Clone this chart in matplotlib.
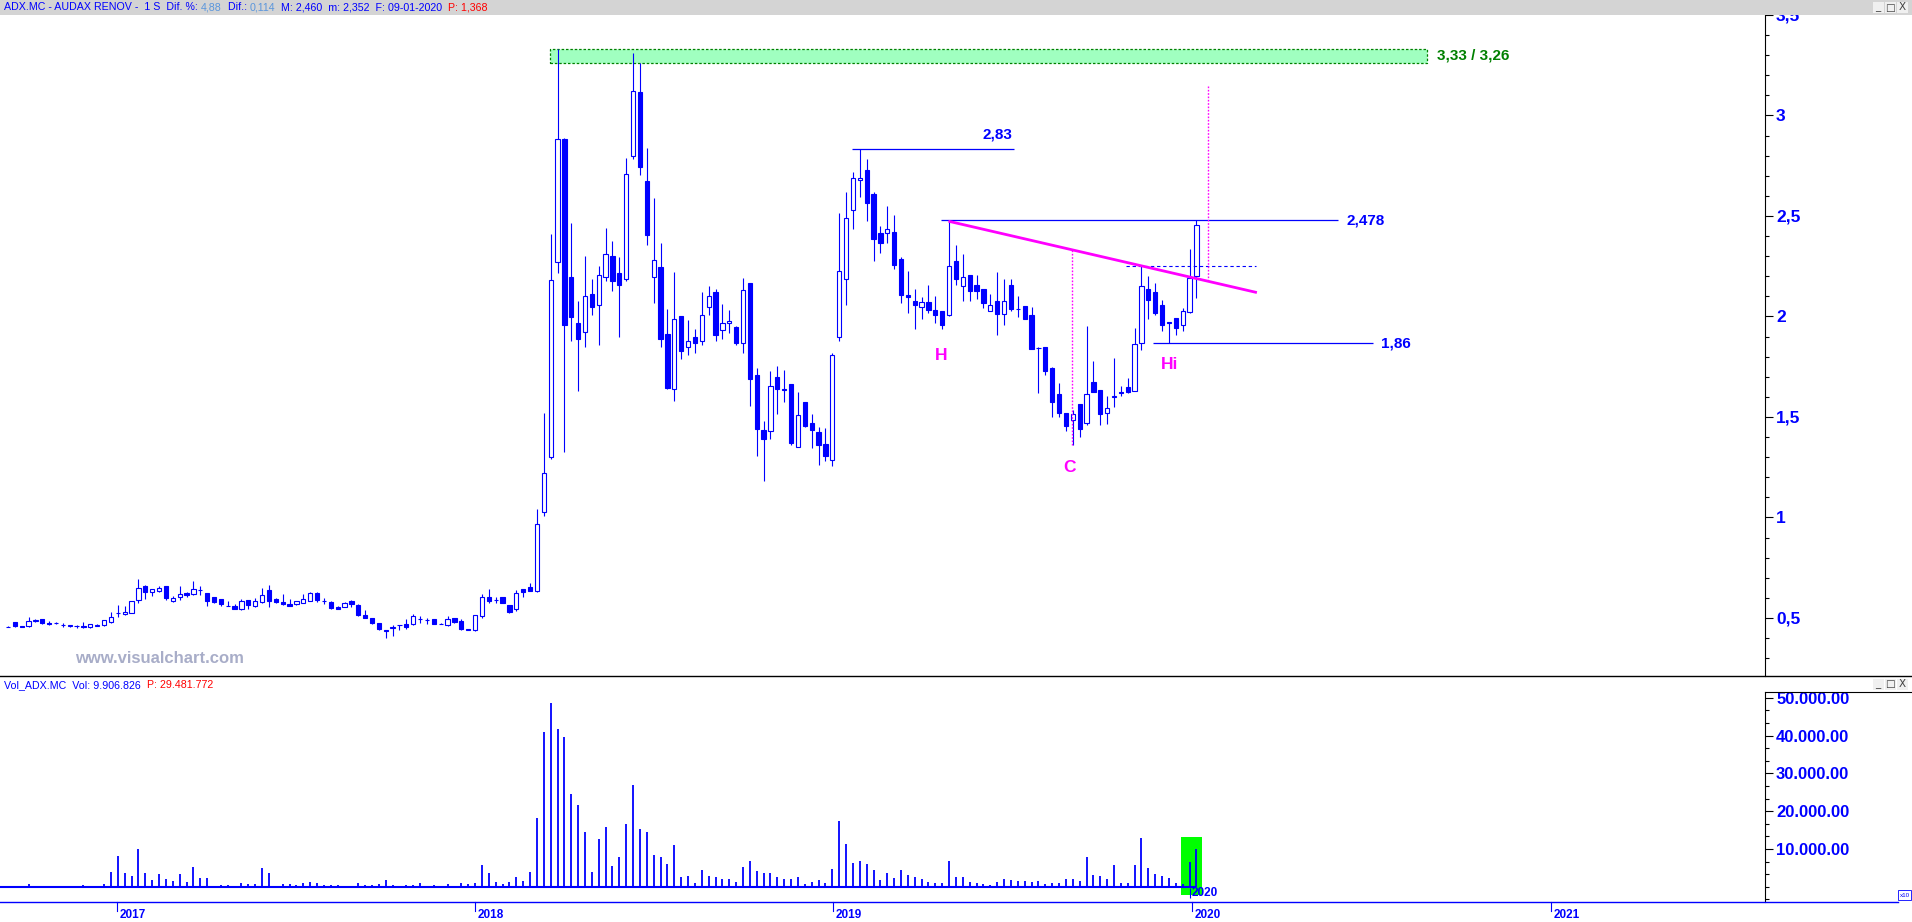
import numpy as np
import pandas as pd
import matplotlib
matplotlib.use('Agg')
import matplotlib.pyplot as plt
import matplotlib.transforms as mtransforms
from matplotlib.patches import Rectangle
from matplotlib.lines import Line2D
from matplotlib.ticker import FixedLocator, FuncFormatter

plt.rcParams['font.family'] = ['Liberation Sans', 'DejaVu Sans']
plt.rcParams['font.weight'] = 'bold'

BLUE = '#0000ff'
LBLUE = '#5a96dc'
RED = '#ff0000'
MAGENTA = '#ff00ff'
GREEN = '#008000'

# weekly candles ADX.MC, first week 2016-09-12
start = '2016-09-12'
opens = [0.455, 0.478, 0.459, 0.458, 0.487, 0.493, 0.476, 0.475, 0.464, 0.461,
         0.461, 0.460, 0.453, 0.462, 0.463, 0.481, 0.524, 0.518, 0.523, 0.587,
         0.660, 0.630, 0.636, 0.659, 0.586, 0.606, 0.622, 0.620, 0.638, 0.622,
         0.602, 0.592, 0.559, 0.559, 0.542, 0.587, 0.561, 0.577, 0.637, 0.594,
         0.579, 0.569, 0.567, 0.576, 0.586, 0.626, 0.584, 0.579, 0.553, 0.553,
         0.584, 0.564, 0.513, 0.498, 0.473, 0.437, 0.451, 0.466, 0.468, 0.468,
         0.494, 0.492, 0.493, 0.472, 0.463, 0.498, 0.485, 0.443, 0.438, 0.510,
         0.604, 0.588, 0.604, 0.563, 0.546, 0.642, 0.652, 0.636, 1.025, 1.302,
         2.272, 2.885, 2.194, 1.965, 1.925, 2.114, 2.055, 2.194, 2.303, 2.214,
         2.184, 2.800, 3.115, 2.673, 2.194, 2.244, 1.915, 1.640, 2.002, 1.846,
         1.897, 1.876, 2.045, 2.124, 1.935, 1.965, 1.947, 1.866, 2.164, 1.711,
         1.433, 1.428, 1.697, 1.638, 1.663, 1.352, 1.574, 1.470, 1.423, 1.364,
         1.284, 1.896, 2.184, 2.532, 2.681, 2.731, 2.611, 2.413, 2.413, 2.422,
         2.285, 2.106, 2.076, 2.048, 2.071, 2.030, 2.026, 2.005, 2.275, 2.154,
         2.204, 2.156, 2.136, 2.028, 2.079, 2.013, 2.159, 2.035, 2.051, 2.006,
         1.841, 1.849, 1.743, 1.614, 1.519, 1.483, 1.564, 1.471, 1.673, 1.634,
         1.521, 1.600, 1.624, 1.647, 1.630, 1.866, 2.137, 2.121, 2.055, 1.970,
         1.992, 1.958, 2.021, 2.200]
highs = [0.462, 0.479, 0.460, 0.503, 0.495, 0.494, 0.485, 0.481, 0.473, 0.467,
         0.464, 0.480, 0.469, 0.468, 0.489, 0.530, 0.563, 0.559, 0.582, 0.693,
         0.662, 0.646, 0.659, 0.660, 0.610, 0.659, 0.627, 0.684, 0.659, 0.623,
         0.603, 0.593, 0.582, 0.569, 0.592, 0.588, 0.597, 0.647, 0.662, 0.599,
         0.619, 0.593, 0.585, 0.619, 0.629, 0.631, 0.597, 0.584, 0.560, 0.579,
         0.589, 0.569, 0.538, 0.499, 0.474, 0.438, 0.463, 0.467, 0.495, 0.520,
         0.508, 0.500, 0.494, 0.473, 0.510, 0.499, 0.493, 0.444, 0.514, 0.619,
         0.642, 0.605, 0.605, 0.564, 0.639, 0.643, 0.675, 1.042, 1.519, 2.408,
         3.331, 2.886, 2.466, 2.078, 2.300, 2.186, 2.250, 2.439, 2.374, 2.295,
         2.787, 3.309, 3.263, 2.837, 2.588, 2.365, 2.036, 2.220, 2.003, 1.982,
         1.937, 2.121, 2.151, 2.136, 2.061, 2.031, 1.955, 2.190, 2.165, 1.746,
         1.478, 1.728, 1.753, 1.736, 1.664, 1.624, 1.575, 1.514, 1.450, 1.445,
         1.819, 2.517, 2.617, 2.718, 2.835, 2.782, 2.621, 2.452, 2.549, 2.505,
         2.297, 2.227, 2.137, 2.096, 2.156, 2.104, 2.027, 2.477, 2.355, 2.310,
         2.205, 2.204, 2.137, 2.114, 2.220, 2.187, 2.187, 2.101, 2.052, 2.045,
         1.849, 1.850, 1.750, 1.667, 1.520, 1.534, 1.565, 1.953, 1.776, 1.635,
         1.604, 1.793, 1.653, 1.693, 1.942, 2.250, 2.200, 2.167, 2.084, 1.971,
         1.993, 2.041, 2.335, 2.478]
lows = [0.453, 0.457, 0.456, 0.457, 0.481, 0.468, 0.466, 0.468, 0.457, 0.456,
        0.452, 0.452, 0.452, 0.459, 0.462, 0.476, 0.503, 0.515, 0.522, 0.576,
        0.594, 0.610, 0.630, 0.589, 0.579, 0.591, 0.606, 0.616, 0.614, 0.561,
        0.576, 0.560, 0.557, 0.543, 0.541, 0.546, 0.556, 0.575, 0.556, 0.576,
        0.566, 0.560, 0.566, 0.575, 0.585, 0.579, 0.569, 0.546, 0.545, 0.552,
        0.556, 0.510, 0.500, 0.471, 0.440, 0.402, 0.412, 0.438, 0.447, 0.467,
        0.475, 0.472, 0.471, 0.469, 0.462, 0.476, 0.442, 0.439, 0.437, 0.501,
        0.573, 0.573, 0.572, 0.526, 0.536, 0.606, 0.635, 0.630, 1.008, 1.292,
        2.217, 1.327, 1.879, 1.630, 1.849, 2.008, 1.859, 2.177, 2.128, 1.899,
        2.177, 2.784, 2.704, 2.356, 2.068, 1.849, 1.639, 1.581, 1.789, 1.809,
        1.819, 1.859, 2.008, 1.879, 1.889, 1.919, 1.859, 1.819, 1.554, 1.307,
        1.183, 1.392, 1.514, 1.574, 1.358, 1.351, 1.451, 1.345, 1.262, 1.282,
        1.257, 1.879, 2.058, 2.436, 2.595, 2.477, 2.277, 2.317, 2.366, 2.237,
        2.068, 2.018, 1.939, 1.988, 2.015, 1.968, 1.937, 2.004, 2.157, 2.078,
        2.078, 2.088, 2.040, 2.027, 1.909, 1.958, 2.028, 1.995, 1.988, 1.838,
        1.620, 1.707, 1.501, 1.501, 1.428, 1.362, 1.402, 1.458, 1.623, 1.461,
        1.464, 1.551, 1.604, 1.617, 1.629, 1.833, 1.988, 2.008, 1.928, 1.870,
        1.909, 1.928, 2.018, 2.094]
closes = [0.457, 0.458, 0.457, 0.483, 0.489, 0.476, 0.468, 0.476, 0.463, 0.462,
          0.460, 0.453, 0.468, 0.463, 0.488, 0.503, 0.525, 0.530, 0.582, 0.647,
          0.630, 0.644, 0.649, 0.601, 0.597, 0.619, 0.612, 0.642, 0.640, 0.586,
          0.579, 0.568, 0.558, 0.546, 0.582, 0.566, 0.582, 0.612, 0.586, 0.581,
          0.571, 0.561, 0.584, 0.593, 0.622, 0.589, 0.585, 0.551, 0.546, 0.574,
          0.571, 0.516, 0.501, 0.476, 0.447, 0.436, 0.453, 0.465, 0.455, 0.508,
          0.496, 0.489, 0.472, 0.470, 0.493, 0.481, 0.447, 0.440, 0.513, 0.602,
          0.584, 0.590, 0.573, 0.531, 0.622, 0.631, 0.636, 0.966, 1.223, 2.183,
          2.884, 1.959, 1.998, 1.889, 2.104, 2.048, 2.204, 2.313, 2.177, 2.157,
          2.711, 3.124, 2.744, 2.406, 2.283, 1.889, 1.645, 1.985, 1.829, 1.876,
          1.869, 2.005, 2.104, 1.909, 1.965, 1.975, 1.869, 2.134, 1.690, 1.438,
          1.388, 1.652, 1.640, 1.636, 1.372, 1.508, 1.455, 1.436, 1.362, 1.307,
          1.806, 2.225, 2.492, 2.691, 2.691, 2.565, 2.386, 2.366, 2.433, 2.257,
          2.107, 2.098, 2.058, 2.071, 2.031, 2.008, 1.958, 2.253, 2.187, 2.194,
          2.127, 2.127, 2.068, 2.055, 2.013, 2.079, 2.038, 2.037, 1.989, 1.839,
          1.842, 1.730, 1.576, 1.521, 1.455, 1.513, 1.441, 1.612, 1.624, 1.514,
          1.544, 1.601, 1.617, 1.624, 1.862, 2.151, 2.083, 2.018, 1.958, 1.969,
          1.945, 2.028, 2.190, 2.457]
# volume (axis units, thousands)
volume = [200, 200, 200, 700, 200, 200, 200, 200, 200, 200,
          200, 440, 200, 200, 700, 3970, 8200, 3700, 2820, 10050,
          3700, 1760, 3440, 2030, 1590, 3440, 1320, 5290, 2380, 2380,
          200, 440, 440, 200, 970, 790, 790, 5030, 3700, 200,
          790, 790, 530, 1060, 1320, 970, 440, 440, 440, 200,
          200, 1060, 530, 530, 790, 1850, 440, 200, 440, 440,
          1060, 200, 440, 200, 790, 200, 1060, 620, 1060, 5820,
          3530, 1320, 790, 1320, 2650, 1590, 3970, 18080, 40830, 48680,
          41800, 39680, 24600, 21690, 14550, 3970, 12700, 15870, 5560, 7940,
          16670, 26980, 15340, 14550, 8470, 7940, 6080, 11110, 2650, 2910,
          1060, 4500, 2910, 2650, 2120, 2120, 1320, 5290, 6880, 4230,
          3700, 3700, 2650, 2120, 2120, 2650, 790, 1320, 1850, 1060,
          4760, 17460, 11380, 6350, 6880, 6080, 4500, 1850, 3700, 2380,
          4500, 3170, 2650, 2120, 1320, 1060, 1060, 6880, 2650, 2650,
          1320, 1060, 790, 530, 1320, 2120, 1850, 1590, 1590, 1320,
          1590, 790, 1060, 1060, 2120, 2120, 1590, 7940, 3170, 2910,
          2120, 5820, 1060, 1060, 5820, 12960, 5030, 3440, 2910, 2380,
          1060, 790, 6610, 9907]

years = [2017, 2018, 2019, 2020, 2021]
price_ticks = [0.5, 1, 1.5, 2, 2.5, 3, 3.5]
vol_ticks = [10000, 20000, 30000, 40000, 50000]

# chart drawings
levels = {'2,83': 2.835, '2,478': 2.478, '1,86': 1.866}
zone = (3.263, 3.333)
neck = ((136.9, 2.474), (181.8, 2.119))
pattern_labels = [('H', 135.8, 1.808), ('C', 154.5, 1.249), ('Hi', 169.1, 1.761)]

dates = pd.date_range(start, periods=len(opens), freq='7D')
x = np.arange(len(opens))

W, H = 1912, 922
fig = plt.figure(figsize=(W / 100, H / 100), dpi=100)
fig.patch.set_facecolor('white')


def fx(px):
    return px / W


def fy(py):
    return 1 - py / H


AXIS_X = 1765
PRICE_TOP, PRICE_BOT = 15, 676
VOL_TOP, VOL_BOT = 692, 902
XLIM = (-1.15, 255.76)

ax = fig.add_axes([0, fy(PRICE_BOT), fx(AXIS_X), (PRICE_BOT - PRICE_TOP) / H])
axv = fig.add_axes([0, fy(VOL_BOT), fx(AXIS_X), (VOL_BOT - VOL_TOP) / H])

for a in (ax, axv):
    for s in ['top', 'left', 'bottom']:
        a.spines[s].set_visible(False)
    a.spines['right'].set_color('black')
    a.spines['right'].set_linewidth(0.8)
    a.set_xlim(XLIM)
    a.tick_params(axis='x', which='both', bottom=False, labelbottom=False)
    a.yaxis.tick_right()

# candles
body_w = 0.62
for i in range(len(x)):
    o, h, l, c = opens[i], highs[i], lows[i], closes[i]
    ax.vlines(x[i], l, h, color=BLUE, lw=0.8, zorder=2)
    lo, hi = min(o, c), max(o, c)
    fc = 'white' if c >= o else BLUE
    ax.add_patch(Rectangle((x[i] - body_w / 2, lo), body_w, max(hi - lo, 0.002),
                           facecolor=fc, edgecolor=BLUE, lw=0.8, zorder=3))

ax.set_ylim(0.211, 3.5)
ax.yaxis.set_major_locator(FixedLocator(price_ticks))
ax.yaxis.set_minor_locator(FixedLocator(np.round(np.arange(0.3, 3.51, 0.1), 2)))
ax.yaxis.set_major_formatter(FuncFormatter(lambda v, p: ('%g' % v).replace('.', ',')))
ax.tick_params(axis='y', which='major', direction='out', length=6, width=0.8,
               color='black', labelcolor=BLUE, labelsize=12.5, pad=2)
ax.tick_params(axis='y', which='minor', direction='out', length=3, width=0.8, color='black')

# green resistance zone
ax.add_patch(Rectangle((78.9, zone[0]), 206.6 - 78.9, zone[1] - zone[0],
                       facecolor='#a0ffc0', edgecolor=GREEN, lw=0.9, ls=(0, (2, 1.5)), zorder=1))
ax.text(208.0, sum(zone) / 2, '3,33 / 3,26', color=GREEN, fontsize=11, ha='left', va='center')

# horizontal levels
ax.hlines(levels['2,83'], 122.9, 146.5, color=BLUE, lw=0.9, zorder=4)
ax.text(146.2, 2.905, '2,83', color=BLUE, fontsize=11, ha='right', va='center')
ax.hlines(levels['2,478'], 135.8, 193.6, color=BLUE, lw=0.9, zorder=4)
ax.text(194.9, levels['2,478'], '2,478', color=BLUE, fontsize=11, ha='left', va='center')
ax.hlines(levels['1,86'], 166.7, 198.7, color=BLUE, lw=0.9, zorder=4)
ax.text(199.9, levels['1,86'], '1,86', color=BLUE, fontsize=11, ha='left', va='center')
ax.hlines(2.249, 162.8, 181.7, color=BLUE, lw=0.8, linestyles=(0, (3, 2.5)), zorder=4)

# neckline and measured move
(x0, y0), (x1, y1) = neck
ax.plot([x0, x1], [y0, y1], color=MAGENTA, lw=2.0, zorder=5, solid_capstyle='butt')
ax.vlines(154.9, 1.36, 2.333, color=MAGENTA, lw=1.0, linestyles=(0, (1.2, 1.2)), zorder=4)
ax.vlines(174.7, 2.175, 3.15, color=MAGENTA, lw=1.0, linestyles=(0, (1.2, 1.2)), zorder=4)
for s, xi, yi in pattern_labels:
    ax.text(xi, yi, s, color=MAGENTA, fontsize=12.5, ha='center', va='center')

ax.text(22.1, 0.298, 'www.visualchart.com', color='#a8adc8', fontsize=12, ha='center', va='center')

# volume panel
axv.set_ylim(-4021, 51534)
axv.add_patch(Rectangle((170.7, -2170), 3.1, 15345, facecolor='#00ff00', edgecolor='none', zorder=1))
axv.vlines(x, 0, volume, color=BLUE, lw=1.3, zorder=3)
axv.hlines(0, XLIM[0], x[-1], color=BLUE, lw=1.5, zorder=3)
axv.yaxis.set_major_locator(FixedLocator(vol_ticks))
axv.yaxis.set_minor_locator(FixedLocator(np.arange(-10000 / 3, 51000, 10000 / 3)))
axv.yaxis.set_major_formatter(FuncFormatter(lambda v, p: f'{int(round(v)):,}'.replace(',', '.') + '.00'))
axv.tick_params(axis='y', which='major', direction='out', length=6, width=0.8,
                color='black', labelcolor=BLUE, labelsize=12, pad=2)
axv.tick_params(axis='y', which='minor', direction='out', length=3, width=0.8, color='black')
axv.vlines(172.1, -2940, -290, color=BLUE, lw=0.8, zorder=4)
axv.text(172.3, -1640, '2020', color=BLUE, fontsize=8.5, ha='left', va='center', zorder=4)

# time axis
blend = mtransforms.blended_transform_factory(axv.transData, fig.transFigure)
year_pos = [(pd.Timestamp(f'{y}-01-01') - dates[0]).days / 7 for y in years]
for yp, yr in zip(year_pos, years):
    axv.add_line(Line2D([yp, yp], [fy(VOL_BOT), fy(911)], transform=blend, color=BLUE,
                        lw=0.8, clip_on=False))
    axv.text(yp + 0.4, fy(915), str(yr), transform=blend, color=BLUE, fontsize=8.5,
             ha='left', va='center', clip_on=False)

fig.add_artist(Line2D([0, fx(1898)], [fy(VOL_BOT), fy(VOL_BOT)], color=BLUE, lw=1.0, zorder=6))
fig.add_artist(Line2D([0, 1], [fy(PRICE_BOT), fy(PRICE_BOT)], color='black', lw=1.0, zorder=6))
fig.add_artist(Line2D([fx(AXIS_X), 1], [fy(VOL_TOP), fy(VOL_TOP)], color='black', lw=0.8, zorder=6))
fig.add_artist(Rectangle((fx(1898), fy(900)), fx(13), 10 / H, transform=fig.transFigure,
                         facecolor='white', edgecolor=BLUE, lw=0.6, zorder=6))
fig.text(fx(1905), fy(895), 'x10', color=BLUE, fontsize=4.5, fontweight='normal',
         ha='center', va='center', zorder=7)

# header bar
fig.add_artist(Rectangle((0, fy(PRICE_TOP)), 1, PRICE_TOP / H, transform=fig.transFigure,
                         facecolor='#d4d4d4', edgecolor='none', zorder=10))

renderer = fig.canvas.get_renderer()


def text_width(s, size):
    t = fig.text(0, 0, '|' + s + '|', fontsize=size, fontweight='normal')
    w = t.get_window_extent(renderer=renderer).width
    t.remove()
    t = fig.text(0, 0, '||', fontsize=size, fontweight='normal')
    w -= t.get_window_extent(renderer=renderer).width
    t.remove()
    return w


def seq_text(x_px, y_px, parts, size):
    for s, col in parts:
        fig.text(fx(x_px), fy(y_px), s.rstrip(), color=col, fontsize=size, fontweight='normal',
                 ha='left', va='center', zorder=11)
        x_px += text_width(s, size)


seq_text(4, 7.5, [('ADX.MC - AUDAX RENOV -  1 S  Dif. %: ', BLUE), ('4,88', LBLUE),
                  ('  Dif.: ', BLUE), ('0,114', LBLUE),
                  ('  M: 2,460  m: 2,352  F: 09-01-2020  ', BLUE), ('P: 1,368', RED)], 7.7)
seq_text(4, 685, [('Vol_ADX.MC  Vol: 9.906.826  ', BLUE), ('P: 29.481.772', RED)], 7.7)


def window_buttons(yc):
    for k, sym in enumerate(['_', '\u25a1', 'X']):
        cx = 1878 + 12 * k
        fig.add_artist(Rectangle((fx(cx - 5.5), fy(yc + 5.5)), fx(11), 11 / H,
                                 transform=fig.transFigure, facecolor='#f0f0f0',
                                 edgecolor='none', zorder=11))
        fig.text(fx(cx), fy(yc), sym, color='#404040', fontsize=7.5, fontweight='normal',
                 family='DejaVu Sans', ha='center', va='center', zorder=12)


window_buttons(7.5)
window_buttons(684)

fig.savefig('out.png', dpi=100, facecolor='white')
